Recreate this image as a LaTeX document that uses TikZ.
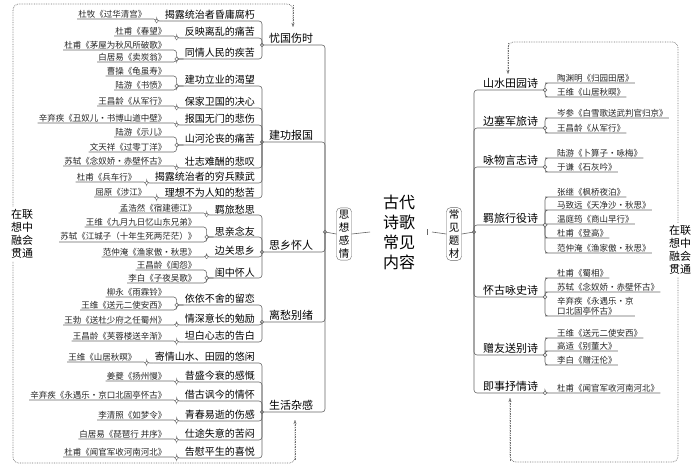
\documentclass[tikz,border=0pt]{standalone}
\usepackage{fontspec}
\setmainfont{Noto Sans CJK SC}
\usepackage{tikz}
\usetikzlibrary{arrows.meta,calc}

\tikzset{
  link/.style={draw=black!60, line width=0.6pt},
  loop/.style={draw=black!55, densely dotted, line width=0.7pt, rounded corners=6pt},
  dot/.style={circle, draw=black!60, fill=white, inner sep=0pt, minimum size=3.5pt},
  emo/.style={inner sep=1pt, font=\fontsize{10}{11}\selectfont},
  poem/.style={inner sep=1pt, font=\fontsize{8.5}{9.5}\selectfont, text=black!85},
  cat/.style={inner sep=1pt, font=\fontsize{11}{12}\selectfont},
  topic/.style={draw=black!60, rounded corners=4pt, inner sep=2pt, align=center,
    font=\fontsize{10.5}{13}\selectfont},
}

% emotion: name, underline y, text, category y
\newcommand\emo[4]{%
  \node[emo, anchor=south east] (#1) at (256,#2) {#3};
  \draw[link, rounded corners=3pt] (#1.south west) -- (262,#2) -- (262,#4);
}
% poem on the left: name, underline y, text, emotion
\newcommand\poem[4]{%
  \node[poem, anchor=south east] (#1) at ($(#4.south west |- 0,#2)+(-16,0)$) {#3};
  \draw[link, rounded corners=3pt] (#1.south west) -- ($(#4.south west |- 0,#2)+(-7,0)$)
    -- ($(#4.south west)+(-7,0)$) -- (#4.south west);
  \node[dot] at ($(#4.south west)+(-7,0)$) {};
}
% category on the left: name, underline y, text
\newcommand\lcat[3]{%
  \node[cat, anchor=south west] (#1) at (268,#2) {#3};
  \draw[link, rounded corners=3pt] (262,#2) -- (325,#2) -- (325,232);
  \node[dot] at (262,#2) {};
}
% category on the right: name, underline y, text
\newcommand\rcat[3]{%
  \node[cat, anchor=south west] (#1) at (482,#2) {#3};
  \draw[link, rounded corners=3pt] (474,232) -- (474,#2) -- (545,#2);
}
% poem on the right: name, underline y, text, category y
\newcommand\rpoem[4]{%
  \node[poem, anchor=south west, align=left] (#1) at (556,#2) {#3};
  \draw[link, rounded corners=3pt] (#1.south east) -- (548,#2) -- (545,#2) -- (545,#4);
  \node[dot] at (545,#4) {};
}

\begin{document}
\begin{tikzpicture}[x=1pt, y=-1pt]
\useasboundingbox[fill=white] (0,0) rectangle (700,470);

% centre
\node[font=\fontsize{16}{20}\selectfont, align=center] (root) at (399,232) {古代\\诗歌\\常见\\内容};
\node[topic, text width=11pt] (feel) at (344,234) {思\\想\\感\\情};
\node[topic, text width=11pt] (kind) at (454,234) {常\\见\\题\\材};
\draw[link] (325,232) -- (feel.west);
\draw[link] (feel.east) -- (370,232);
\draw[link] (432,232) -- (kind.west);
\draw[link] (427,229) -- (427,235);
\draw[link] (kind.east) -- (474,232);
\node[dot] at (325,232) {};
\node[dot] at (474,232) {};

% left categories
\lcat{c1}{45}{忧国伤时}
\lcat{c2}{142}{建功报国}
\lcat{c3}{252}{思乡怀人}
\lcat{c4}{322}{离愁别绪}
\lcat{c5}{412}{生活杂感}

% 忧国伤时
\emo{e1}{21}{揭露统治者昏庸腐朽}{45}
\emo{e2}{38}{反映离乱的痛苦}{45}
\emo{e3}{59}{同情人民的疾苦}{45}
\poem{p1}{19}{杜牧《过华清宫》}{e1}
\poem{p2}{36}{杜甫《春望》}{e2}
\poem{p3}{50}{杜甫《茅屋为秋风所破歌》}{e3}
\poem{p4}{62}{白居易《卖炭翁》}{e3}

% 建功报国
\emo{e4}{86}{建功立业的渴望}{142}
\emo{e5}{108}{保家卫国的决心}{142}
\emo{e6}{125}{报国无门的悲伤}{142}
\emo{e7}{145}{山河沦丧的痛苦}{142}
\emo{e8}{168}{壮志难酬的悲叹}{142}
\emo{e9}{183}{揭露统治者的穷兵黩武}{142}
\emo{e10}{198}{理想不为人知的愁苦}{142}
\poem{p5}{76}{曹操《龟虽寿》}{e4}
\poem{p6}{90}{陆游《书愤》}{e4}
\poem{p7}{106}{王昌龄《从军行》}{e5}
\poem{p8}{123}{辛弃疾《丑奴儿·书博山道中壁》}{e6}
\poem{p9}{137}{陆游《示儿》}{e7}
\poem{p10}{152}{文天祥《过零丁洋》}{e7}
\poem{p11}{166}{苏轼《念奴娇·赤壁怀古》}{e8}
\poem{p12}{182}{杜甫《兵车行》}{e9}
\poem{p13}{197}{屈原《涉江》}{e10}

% 思乡怀人
\emo{e11}{215}{羁旅愁思}{252}
\emo{e12}{237}{思亲念友}{252}
\emo{e13}{257}{边关思乡}{252}
\emo{e14}{278}{闺中怀人}{252}
\poem{p14}{213}{孟浩然《宿建德江》}{e11}
\poem{p15}{227}{王维《九月九日忆山东兄弟》}{e12}
\poem{p16}{242}{苏轼《江城子（十年生死两茫茫）》}{e12}
\poem{p17}{257}{范仲淹《渔家傲·秋思》}{e13}
\poem{p18}{270}{王昌龄《闺怨》}{e14}
\poem{p19}{283}{李白《子夜吴歌》}{e14}

% 离愁别绪
\emo{e15}{305}{依依不舍的留恋}{322}
\emo{e16}{325}{情深意长的勉励}{322}
\emo{e17}{342}{坦白心志的告白}{322}
\poem{p20}{297}{柳永《雨霖铃》}{e15}
\poem{p21}{310}{王维《送元二使安西》}{e15}
\poem{p22}{325}{王勃《送杜少府之任蜀州》}{e16}
\poem{p23}{341}{王昌龄《芙蓉楼送辛渐》}{e17}

% 生活杂感
\emo{e18}{363}{寄情山水、田园的悠闲}{412}
\emo{e19}{382}{昔盛今衰的感慨}{412}
\emo{e20}{401}{借古讽今的情怀}{412}
\emo{e21}{421}{青春易逝的伤感}{412}
\emo{e22}{440}{仕途失意的苦闷}{412}
\emo{e23}{458}{告慰平生的喜悦}{412}
\poem{p24}{362}{王维《山居秋暝》}{e18}
\poem{p25}{381}{姜夔《扬州慢》}{e19}
\poem{p26}{400}{辛弃疾《永遇乐·京口北固亭怀古》}{e20}
\poem{p27}{420}{李清照《如梦令》}{e21}
\poem{p28}{439}{白居易《琵琶行 并序》}{e22}
\poem{p29}{457}{杜甫《闻官军收河南河北》}{e23}

% right categories
\rcat{r1}{90}{山水田园诗}
\rcat{r2}{128}{边塞军旅诗}
\rcat{r3}{167}{咏物言志诗}
\rcat{r4}{225}{羁旅行役诗}
\rcat{r5}{297}{怀古咏史诗}
\rcat{r6}{355}{赠友送别诗}
\rcat{r7}{393}{即事抒情诗}
\rpoem{q1}{83}{陶渊明《归园田居》}{90}
\rpoem{q2}{97}{王维《山居秋暝》}{90}
\rpoem{q3}{118}{岑参《白雪歌送武判官归京》}{128}
\rpoem{q4}{133}{王昌龄《从军行》}{128}
\rpoem{q5}{158}{陆游《卜算子·咏梅》}{167}
\rpoem{q6}{172}{于谦《石灰吟》}{167}
\rpoem{q7}{197}{张继《枫桥夜泊》}{225}
\rpoem{q8}{210}{马致远《天净沙·秋思》}{225}
\rpoem{q9}{224}{温庭筠《商山早行》}{225}
\rpoem{q10}{238}{杜甫《登高》}{225}
\rpoem{q11}{253}{范仲淹《渔家傲·秋思》}{225}
\rpoem{q12}{278}{杜甫《蜀相》}{297}
\rpoem{q13}{292}{苏轼《念奴娇·赤壁怀古》}{297}
\rpoem{q14}{316}{辛弃疾《永遇乐·京\\口北固亭怀古》}{297}
\rpoem{q15}{338}{王维《送元二使安西》}{355}
\rpoem{q16}{351}{高适《别董大》}{355}
\rpoem{q17}{365}{李白《赠汪伦》}{355}
\rpoem{q18}{393}{杜甫《闻官军收河南河北》}{393}

% dotted loops
\coordinate (lt) at (293,27);
\coordinate (lb) at (295,420);
\draw[loop] (lb) -- (295,463) -- (13,463) -- (13,4) -- (293,4) -- (lt);
\draw[loop, -{Stealth[length=4pt]}] (293,5) -- (lt);
\draw[loop, -{Stealth[length=4pt]}] (295,460) -- (lb);
\node[fill=white, align=center, inner sep=2pt, font=\fontsize{11}{13}\selectfont] (lnote) at (22,234) {在联\\想中\\融会\\贯通};

\coordinate (rt) at (508,74);
\coordinate (rb) at (510,398);
\draw[loop] (rb) -- (510,462) -- (678,462) -- (678,42) -- (508,42) -- (rt);
\draw[loop, -{Stealth[length=4pt]}] (508,43) -- (rt);
\draw[loop, -{Stealth[length=4pt]}] (510,461) -- (rb);
\node[fill=white, align=center, inner sep=2pt, font=\fontsize{11}{13}\selectfont] (rnote) at (680,250) {在联\\想中\\融会\\贯通};
\end{tikzpicture}
\end{document}
